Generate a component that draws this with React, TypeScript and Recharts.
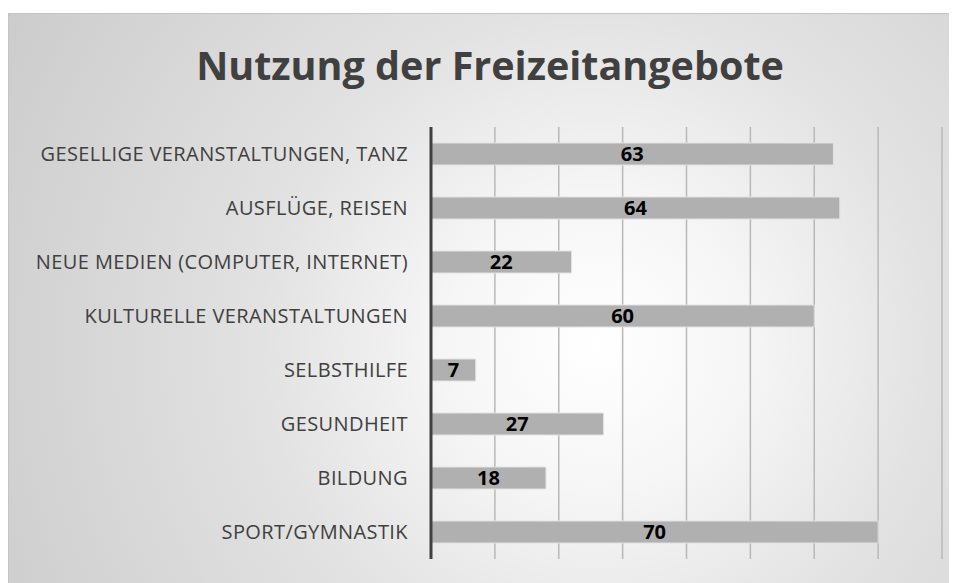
import React from 'react';
import { BarChart, Bar, XAxis, YAxis, CartesianGrid, LabelList } from 'recharts';

const categories = [
  'GESELLIGE VERANSTALTUNGEN, TANZ',
  'AUSFLÜGE, REISEN',
  'NEUE MEDIEN (COMPUTER, INTERNET)',
  'KULTURELLE VERANSTALTUNGEN',
  'SELBSTHILFE',
  'GESUNDHEIT',
  'BILDUNG',
  'SPORT/GYMNASTIK',
];
const usage = [63, 64, 22, 60, 7, 27, 18, 70];
const xTicks = [0, 10, 20, 30, 40, 50, 60, 70, 80];

const data = categories.map((name, i) => ({ name, value: usage[i] }));

const font = '"Open Sans", "Noto Sans", sans-serif';

const App: React.FC = () => {
  return (
    <div style={{ paddingTop: 5 }}>
      <div
        style={{
          position: 'relative',
          width: 949,
          height: 570,
          boxSizing: 'border-box',
          borderTop: '1px solid #c4c4c4',
          borderLeft: '1px solid #c4c4c4',
          background: 'radial-gradient(circle at 62% 58%, #ffffff 0%, #f6f6f6 22%, #e2e2e2 50%, #cccccc 100%)',
          fontFamily: font,
        }}
      >
        <div
          style={{
            position: 'absolute',
            top: 24,
            left: 0,
            width: 962,
            textAlign: 'center',
            fontSize: 39.5,
            fontWeight: 'bold',
            color: '#404040',
          }}
        >
          Nutzung der Freizeitangebote
        </div>
        <BarChart
          width={948}
          height={569}
          data={data}
          layout="vertical"
          margin={{ top: 113, right: 15, left: 0, bottom: 24 }}
        >
          <CartesianGrid horizontal={false} stroke="#b8b8b8" strokeWidth={1.5} />
          <XAxis type="number" domain={[0, 80]} ticks={xTicks} hide />
          <YAxis
            type="category"
            dataKey="name"
            width={422}
            axisLine={{ stroke: '#404040', strokeWidth: 3 }}
            tickLine={false}
            tickMargin={17}
            tick={{ fill: '#404040', fontSize: 20, letterSpacing: 0.4, fontFamily: font }}
          />
          <Bar dataKey="value" fill="#b0b0b0" stroke="#e2e2e2" strokeWidth={1} barSize={22} isAnimationActive={false}>
            <LabelList dataKey="value" position="center" fill="#000000" fontWeight="bold" fontSize={20} fontFamily={font} />
          </Bar>
        </BarChart>
      </div>
    </div>
  );
};

export default App;
